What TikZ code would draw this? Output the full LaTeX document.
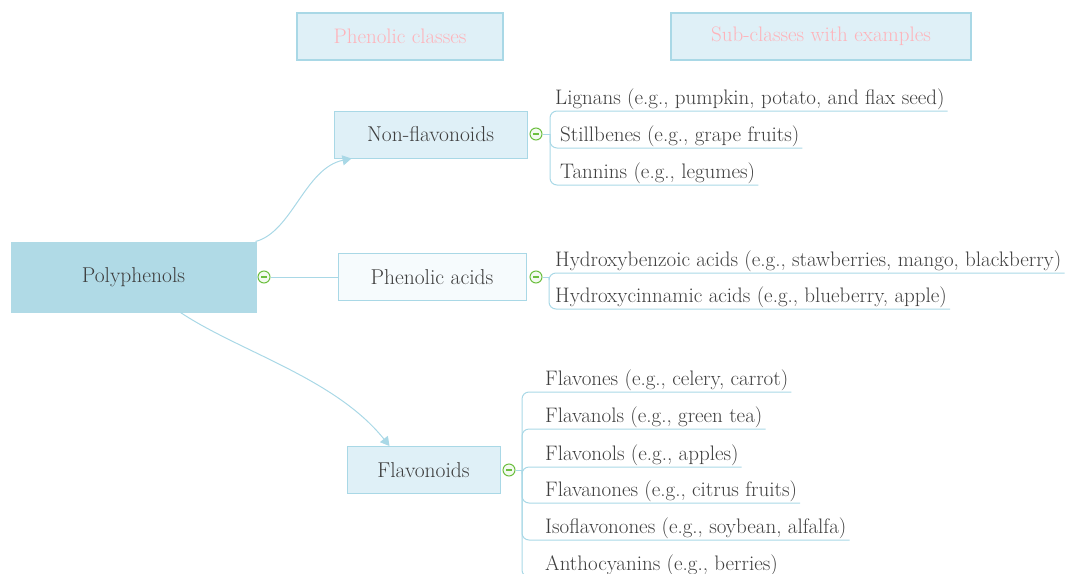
\documentclass[tikz,border=0pt]{standalone}
\usepackage{tikz}
\usetikzlibrary{arrows.meta}

\definecolor{linkblue}{HTML}{A9D8E6}
\definecolor{rootfill}{HTML}{B0DAE6}
\definecolor{boxfill}{HTML}{DFF0F7}
\definecolor{palefill}{HTML}{F6FBFD}
\definecolor{txtgray}{HTML}{3E3E3E}
\definecolor{headpink}{HTML}{FFB3BA}
\definecolor{knobgreen}{HTML}{6CBF3F}

\tikzset{
  class/.style={draw=linkblue, line width=1pt, fill=boxfill, text=txtgray,
    minimum height=47, inner sep=0, font=\fontsize{21.5}{25}\selectfont},
  header/.style={class, line width=1.3pt, text=headpink, font=\fontsize{21}{25}\selectfont},
  leaf/.style={anchor=south west, text=txtgray, inner xsep=3, inner ysep=0,
    text height=15, text depth=6, font=\fontsize{21}{25}\selectfont},
  link/.style={draw=linkblue, line width=1pt},
  knob/.style={circle, draw=knobgreen, fill=knobgreen!8, line width=1pt,
    minimum size=12, inner sep=0,
    path picture={\draw[knobgreen, line width=1.2pt]
      ([xshift=-3pt]path picture bounding box.center) --
      ([xshift=3pt]path picture bounding box.center);}},
}

\begin{document}
\begin{tikzpicture}[x=1pt, y=-1pt, >={Triangle[length=9pt, width=10pt]}]

\useasboundingbox (0,0) rectangle (1068,573);
\clip (0,0) rectangle (1068,573);

% headers
\node[header, minimum width=206] (hdA) at (400,36.5) {Phenolic classes};
\node[header, minimum width=300] (hdB) at (821,36.5) {Sub-classes with examples};

% classes
\node[class, draw=rootfill, fill=rootfill, minimum width=245, minimum height=70] (root) at (133.5,277) {Polyphenols};
\node[class, minimum width=193] (nonflav) at (430.5,134.5) {Non-flavonoids};
\node[class, fill=palefill, minimum width=188] (acids) at (432,277) {Phenolic acids};
\node[class, minimum width=153] (flav) at (423.5,470) {Flavonoids};

% collapse knobs
\node[knob] (k0) at (264,277) {};
\node[knob] (k1) at (536,134) {};
\node[knob] (k2) at (536,277) {};
\node[knob] (k3) at (509,470) {};

\coordinate (j1) at (550,134);
\coordinate (j2) at (549,277);
\coordinate (j3) at (522,470);
\coordinate (r1) at ([xshift=-1]root.north east);
\coordinate (r3) at ([xshift=47]root.south);

\draw[link] (root.east) -- (k0);
\draw[link] (k0) -- (acids.west);
\draw[link, ->] (r1) .. controls (292,232) and (305,168) .. ([xshift=18]nonflav.south west);
\draw[link, ->] (r3) .. controls (240,352) and (335,378) .. ([xshift=43]flav.north west);

\draw[link] (k1) -- (j1);
\draw[link] (k2) -- (j2);
\draw[link] (k3) -- (j3);

% sub-classes
\foreach \n/\x/\y/\t in {lig/552/111/{Lignans (e.g., pumpkin, potato, and flax seed)},
    sti/557/148/{Stillbenes (e.g., grape fruits)},
    tan/557/185/{Tannins (e.g., legumes)}}
{
  \node[leaf] (\n) at (\x,\y) {\t};
  \draw[link, rounded corners=7] (j1) |- (\n.south east);
}

\foreach \n/\y/\t in {hb/273/{Hydroxybenzoic acids (e.g., stawberries, mango, blackberry)},
    hc/309/{Hydroxycinnamic acids (e.g., blueberry, apple)}}
{
  \node[leaf] (\n) at (552,\y) {\t};
  \draw[link, rounded corners=7] (j2) |- (\n.south east);
}

\foreach \n/\y/\t in {fo/392/{Flavones (e.g., celery, carrot)},
    fa/429/{Flavanols (e.g., green tea)},
    fl/467/{Flavonols (e.g., apples)},
    fn/503/{Flavanones (e.g., citrus fruits)},
    iso/540/{Isoflavonones (e.g., soybean, alfalfa)},
    ant/577/{Anthocyanins (e.g., berries)}}
{
  \node[leaf] (\n) at (542,\y) {\t};
  \draw[link, rounded corners=7] (j3) |- (\n.south east);
}

\end{tikzpicture}
\end{document}
